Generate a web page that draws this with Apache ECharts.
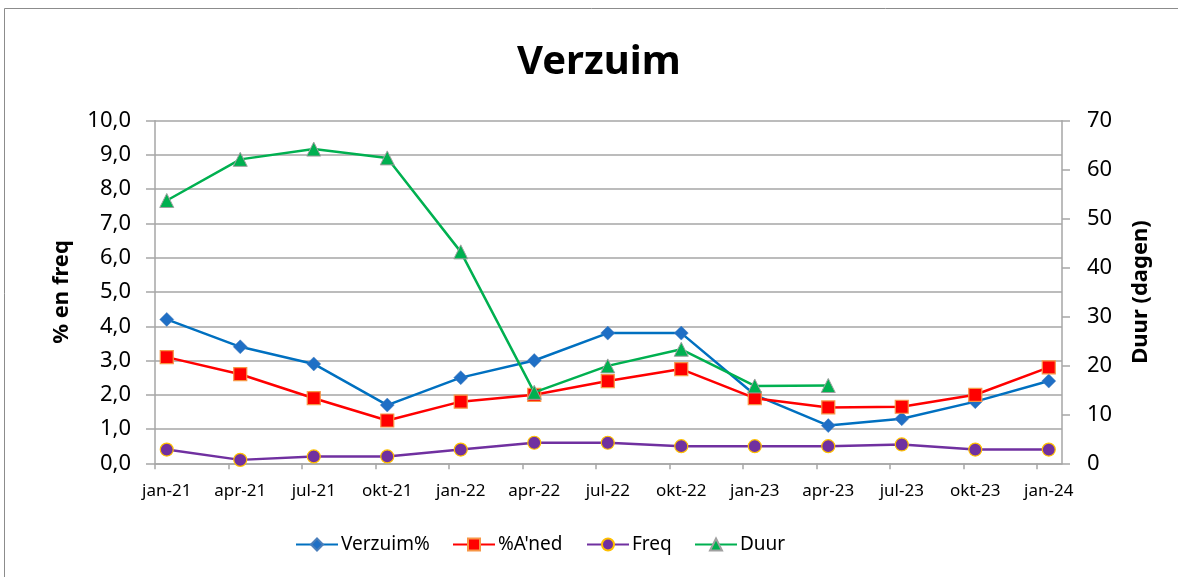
<!DOCTYPE html>
<html>
<head>
<meta charset="utf-8">
<script src="https://cdn.jsdelivr.net/npm/echarts@6/dist/echarts.min.js"></script>
<style>
html,body{margin:0;padding:0;background:#fff;}
#chart{width:1178px;height:577px;}
</style>
</head>
<body>
<div id="chart"></div>
<script>
// ---- data ----
var categories = ['jan-21','apr-21','jul-21','okt-21','jan-22','apr-22','jul-22','okt-22','jan-23','apr-23','jul-23','okt-23','jan-24'];
var verzuim = [4.2, 3.4, 2.9, 1.7, 2.5, 3.0, 3.8, 3.8, 2.0, 1.1, 1.3, 1.8, 2.4];
var aned    = [3.1, 2.6, 1.9, 1.25, 1.8, 2.0, 2.4, 2.75, 1.9, 1.63, 1.65, 2.0, 2.8];
var freq    = [0.4, 0.1, 0.2, 0.2, 0.4, 0.6, 0.6, 0.5, 0.5, 0.5, 0.55, 0.4, 0.4];
var duur    = [53.7, 62.1, 64.2, 62.4, 43.2, 14.5, 19.9, 23.3, 15.8, 15.9, null, null, null];
var leftTicks = [0,1,2,3,4,5,6,7,8,9,10];
var rightTicks = [0,10,20,30,40,50,60,70];

// point offset inside each period (points sit a little after the period tick)
var OFF = 0.16;
function pts(arr){ return arr.map(function(v,i){ return [i+OFF, v]; }); }

var FONT = 'Noto Sans';
var grey = '#a6a6a6';
var chart = echarts.init(document.getElementById('chart'));

function legendAt(left, name){
  return {
    data:[name], left:left, top:535, padding:0, itemWidth:42, itemHeight:15, itemGap:0,
    textStyle:{fontFamily:FONT, fontSize:19, color:'#000', padding:[0,0,0,-2]}
  };
}

chart.setOption({
  animation:false,
  backgroundColor:'#fff',
  title:{
    text:'Verzuim', left:512, top:38,
    textStyle:{fontFamily:FONT, fontSize:40, fontWeight:'bold', color:'#000'}
  },
  graphic:[{
    type:'rect', shape:{x:4.5, y:8.5, width:1200, height:600},
    style:{fill:'none', stroke:'#8c8c8c', lineWidth:1}
  }],
  legend:[
    legendAt(295,'Verzuim%'),
    legendAt(452,"%A'ned"),
    legendAt(586,'Freq'),
    legendAt(694,'Duur')
  ],
  grid:{left:155, right:116, top:120.7, bottom:113.7, containLabel:false},
  xAxis:{
    type:'value', min:0, max:12.34,
    axisLine:{show:true, lineStyle:{color:grey, width:1.5}},
    axisTick:{show:true, length:6, customValues:categories.map(function(c,i){return i;}), lineStyle:{color:grey, width:1.5}},
    axisLabel:{
      customValues:categories.map(function(c,i){return i+OFF;}),
      formatter:function(v){ return categories[Math.round(v-OFF)]; },
      fontFamily:FONT, fontSize:17, color:'#000', margin:19
    },
    splitLine:{show:false}
  },
  yAxis:[{
    type:'value', min:0, max:10, interval:1,
    name:'% en freq', nameLocation:'middle', nameGap:82,
    nameTextStyle:{fontFamily:FONT, fontSize:22, fontWeight:'bold', color:'#000'},
    axisLine:{show:true, lineStyle:{color:grey, width:1.5}},
    axisTick:{show:true, length:9, lineStyle:{color:grey, width:1.5}},
    axisLabel:{
      formatter:function(v){ return leftTicks.indexOf(v)>=0 ? v.toFixed(1).replace('.',',') : ''; },
      fontFamily:FONT, fontSize:22, color:'#000', margin:24
    },
    splitLine:{show:true, lineStyle:{color:grey, width:1.5}}
  },{
    type:'value', min:0, max:70, interval:10,
    name:'Duur (dagen)', nameLocation:'middle', nameGap:68,
    nameTextStyle:{fontFamily:FONT, fontSize:22, fontWeight:'bold', color:'#000'},
    axisLine:{show:true, lineStyle:{color:grey, width:1.5}},
    axisTick:{show:true, length:8, lineStyle:{color:grey, width:1.5}},
    axisLabel:{
      formatter:function(v){ return rightTicks.indexOf(v)>=0 ? String(v) : ''; },
      fontFamily:FONT, fontSize:22, color:'#000', margin:25
    },
    splitLine:{show:false}
  }],
  series:[{
    name:'Verzuim%', type:'line', yAxisIndex:0, data:pts(verzuim),
    symbol:'diamond', symbolSize:14,
    lineStyle:{color:'#0070c0', width:2.5},
    itemStyle:{color:'#1f6fc5', borderColor:'#4a7ebb', borderWidth:0.5},
    z:3
  },{
    name:"%A'ned", type:'line', yAxisIndex:0, data:pts(aned),
    symbol:'rect', symbolSize:13,
    lineStyle:{color:'#ff0000', width:2.5},
    itemStyle:{color:'#ff0000', borderColor:'#f79646', borderWidth:1.2},
    z:4
  },{
    name:'Freq', type:'line', yAxisIndex:0, data:pts(freq),
    symbol:'circle', symbolSize:13,
    lineStyle:{color:'#7030a0', width:2.5},
    itemStyle:{color:'#7030a0', borderColor:'#ffc000', borderWidth:1.2},
    z:3
  },{
    name:'Duur', type:'line', yAxisIndex:1, data:pts(duur),
    symbol:'triangle', symbolSize:14,
    lineStyle:{color:'#00b050', width:2.5},
    itemStyle:{color:'#00b050', borderColor:'#a0a0a0', borderWidth:1},
    connectNulls:false,
    z:5
  }]
});
</script>
</body>
</html>
